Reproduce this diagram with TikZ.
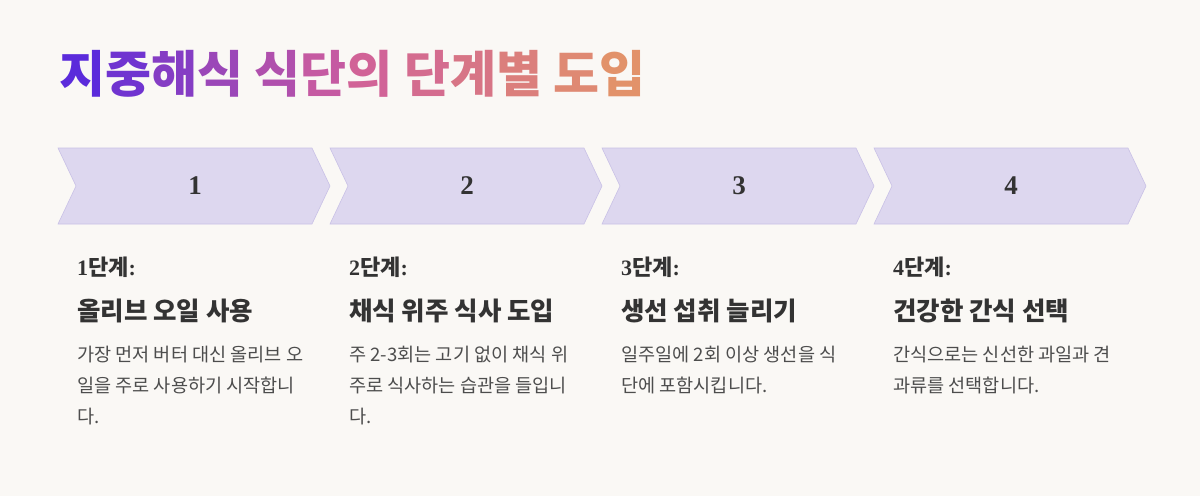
\documentclass[tikz,border=0pt]{standalone}
\usepackage{fontspec}
\usepackage{xcolor}
\newfontfamily\krfont{Noto Sans CJK KR}
\newfontfamily\numfont{Liberation Serif}

\definecolor{bgcol}{HTML}{FAF8F5}
\definecolor{chevfill}{HTML}{DDD7EF}
\definecolor{chevline}{HTML}{C9C1E6}
\definecolor{headcol}{HTML}{333333}
\definecolor{bodycol}{HTML}{4D4D4D}
\definecolor{tstart}{HTML}{5B2BDB}
\definecolor{tmid}{HTML}{CF5E9C}
\definecolor{tend}{HTML}{E2926A}

% title colour steps
\newcommand{\gradA}[2]{{\color{tmid!#1!tstart}#2}}
\newcommand{\gradB}[2]{{\color{tend!#1!tmid}#2}}

\tikzset{
  chev/.style={fill=chevfill, draw=chevline, line width=0.6pt},
  stepnum/.style={font=\numfont\bfseries\fontsize{27}{30}\selectfont, text=headcol},
  stephead/.style={anchor=west, inner sep=0pt, text=headcol, font=\fontsize{22}{26}\selectfont},
  stepsub/.style={anchor=west, inner sep=0pt, text=headcol, font=\krfont\bfseries\fontsize{25.5}{30}\selectfont},
  stepbody/.style={anchor=north west, inner sep=0pt, align=left, text=bodycol, font=\krfont\fontsize{18.6}{31}\selectfont}
}

\begin{document}
\begin{tikzpicture}[x=1pt, y=-1pt]

\useasboundingbox[fill=bgcol] (0,0) rectangle (1200,496);

% Title
\node[anchor=west, inner sep=0pt, font=\krfont\bfseries\fontsize{50}{54}\selectfont] (title) at (59,74)
  {\gradA{0}{지}\gradA{18}{중}\gradA{36}{해}\gradA{55}{식} \gradA{73}{식}\gradA{91}{단}\gradB{9}{의} \gradB{27}{단}\gradB{45}{계}\gradB{64}{별} \gradB{82}{도}\gradB{100}{입}};

% Chevrons with step numbers
\foreach \i in {1,2,3,4} {
    \pgfmathsetmacro{\L}{58+272*(\i-1)}
    \draw[chev] (\L,148) -- (\L+254,148) -- (\L+272,186) -- (\L+254,224) -- (\L,224) -- (\L+18,186) -- cycle;
    \node[stepnum] (num\i) at (\L+137,186) {\i};
}

% Step 1
\node[stephead] (head1) at (77,267) {{\numfont\bfseries 1}{\krfont\bfseries 단계}{\numfont\bfseries :}};
\node[stepsub] (sub1) at (77,311) {올리브 오일 사용};
\node[stepbody] (body1) at (77,346) {가장 먼저 버터 대신 올리브 오\\일을 주로 사용하기 시작합니\\다.};

% Step 2
\node[stephead] (head2) at (349,267) {{\numfont\bfseries 2}{\krfont\bfseries 단계}{\numfont\bfseries :}};
\node[stepsub] (sub2) at (349,311) {채식 위주 식사 도입};
\node[stepbody] (body2) at (349,346) {주 2-3회는 고기 없이 채식 위\\주로 식사하는 습관을 들입니\\다.};

% Step 3
\node[stephead] (head3) at (621,267) {{\numfont\bfseries 3}{\krfont\bfseries 단계}{\numfont\bfseries :}};
\node[stepsub] (sub3) at (621,311) {생선 섭취 늘리기};
\node[stepbody] (body3) at (621,346) {일주일에 2회 이상 생선을 식\\단에 포함시킵니다.};

% Step 4
\node[stephead] (head4) at (893,267) {{\numfont\bfseries 4}{\krfont\bfseries 단계}{\numfont\bfseries :}};
\node[stepsub] (sub4) at (893,311) {건강한 간식 선택};
\node[stepbody] (body4) at (893,346) {간식으로는 신선한 과일과 견\\과류를 선택합니다.};

\end{tikzpicture}
\end{document}
